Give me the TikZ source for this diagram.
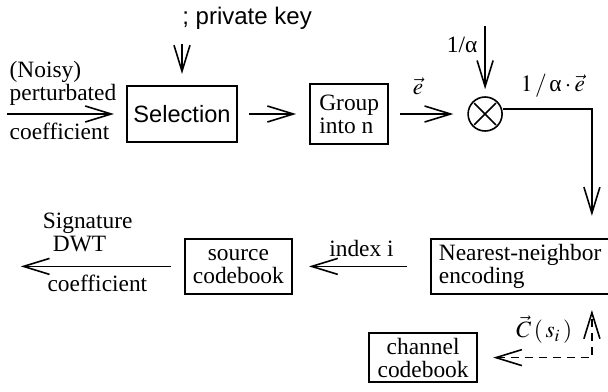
\documentclass[tikz,border=0pt]{standalone}
\usepackage{mathptmx}
\usepackage{fontspec}
\setmainfont{Liberation Serif}
\setsansfont{Liberation Sans}
\usepackage{tikz}
\usetikzlibrary{arrows.meta,positioning}
\tikzset{
    blockbox/.style={
        draw,
        line width=1.1pt,
        inner sep=2pt,
        font=\fontsize{11.7pt}{11.4pt}\selectfont
    },
    selbox/.style={
        blockbox,
        font=\sffamily\fontsize{11.8pt}{12pt}\selectfont,
        minimum width=55pt,
        minimum height=28pt
    },
    lbl/.style={
        inner sep=0pt,
        font=\fontsize{11.7pt}{11.4pt}\selectfont
    },
    sflbl/.style={
        inner sep=0pt,
        font=\sffamily\fontsize{12pt}{12pt}\selectfont
    },
    flow/.style={
        -{Straight Barb[length=13pt,width=8pt]},
        line width=0.8pt
    },
    twoway/.style={
        {Straight Barb[length=13pt,width=8pt]}-{Straight Barb[length=13pt,width=8pt]},
        line width=0.8pt,
        dash pattern=on 4pt off 3pt
    }
}

\begin{document}
\begin{tikzpicture}[x=0.5pt,y=-0.5pt]
    \useasboundingbox (0,0) rectangle (608,391);

    \node[selbox] (sel) at (182,114) {Selection};
    \node[blockbox, align=left, minimum width=39pt, minimum height=30pt, right=35.5pt of sel] (grp) {Group\\into n};
    \node[circle, draw, line width=0.8pt, minimum size=17pt, inner sep=0pt, right=39pt of grp] (mul) {};
    \draw[line width=0.8pt, shorten <=1.2pt, shorten >=1.2pt] (mul.north west) -- (mul.south east);
    \draw[line width=0.8pt, shorten <=1.2pt, shorten >=1.2pt] (mul.north east) -- (mul.south west);

    \node[blockbox, align=left, minimum width=89pt, minimum height=27.5pt, below=53pt of mul, xshift=17.5pt] (nn) {Nearest-neighbor\\encoding};
    \node[blockbox, align=center, minimum width=53.5pt, minimum height=27.5pt, left=68.5pt of nn] (src) {source\\codebook};
    \node[blockbox, align=center, minimum width=54pt, minimum height=24.5pt, below=18.5pt of nn, xshift=-48.5pt] (chan) {channel\\codebook};

    \coordinate[left=59.5pt of sel] (in);
    \coordinate[above=20.5pt of sel] (keyin);
    \coordinate[above=35pt of mul] (alpha);
    \coordinate[right=44.5pt of mul, yshift=2.5pt] (bend);
    \coordinate[left=81.5pt of src] (out);
    \coordinate (ret) at (bend |- chan.east);

    \node[sflbl, above right=7pt and 0pt of keyin] (key) {; private key};

    % top row
    \draw[flow, shorten >=6pt] (in)
        -- node[lbl, pos=0, above right=4pt and 1pt, align=left] {(Noisy)\\perturbated}
           node[lbl, pos=0, below right=4pt and 1pt] {coefficient} (sel.west);
    \draw[flow, shorten >=5.5pt] (keyin) -- (sel);
    \draw[flow, shorten <=5.5pt, shorten >=6.5pt] (sel) -- (grp);
    \draw[flow, shorten <=5.5pt, shorten >=7pt] (grp) -- node[lbl, pos=0.37, above=9pt] {$\vec{e}$} (mul);
    \draw[flow, shorten >=3.5pt] (alpha) -- node[lbl, pos=0.26, left=3.5pt] {1/α} (mul);
    \draw[flow, shorten >=11pt] (mul.east |- bend) -- (bend)
        node[lbl, above left=5.5pt and 3pt] {$1\,/\,\mbox{α}\cdot\vec{e}$}
        -- (bend |- nn.north);

    % bottom row
    \draw[flow, shorten <=11.5pt, shorten >=8pt] (nn) -- node[lbl, above=4.5pt] {index i} (src);
    \draw[flow, shorten <=6.5pt] (src)
        -- node[lbl, pos=0.59, above=7pt, align=center] {Signature\\DWT\hspace*{8pt}}
           node[lbl, pos=0.53, below=4pt] {coefficient} (out);
    \draw[twoway, shorten <=7.5pt, shorten >=7.5pt] (chan.east) -- (ret)
        -- node[lbl, pos=0.45, left=9.5pt] {$\vec{C}\,(\,s_i\,)$} (ret |- nn.south);
\end{tikzpicture}
\end{document}
